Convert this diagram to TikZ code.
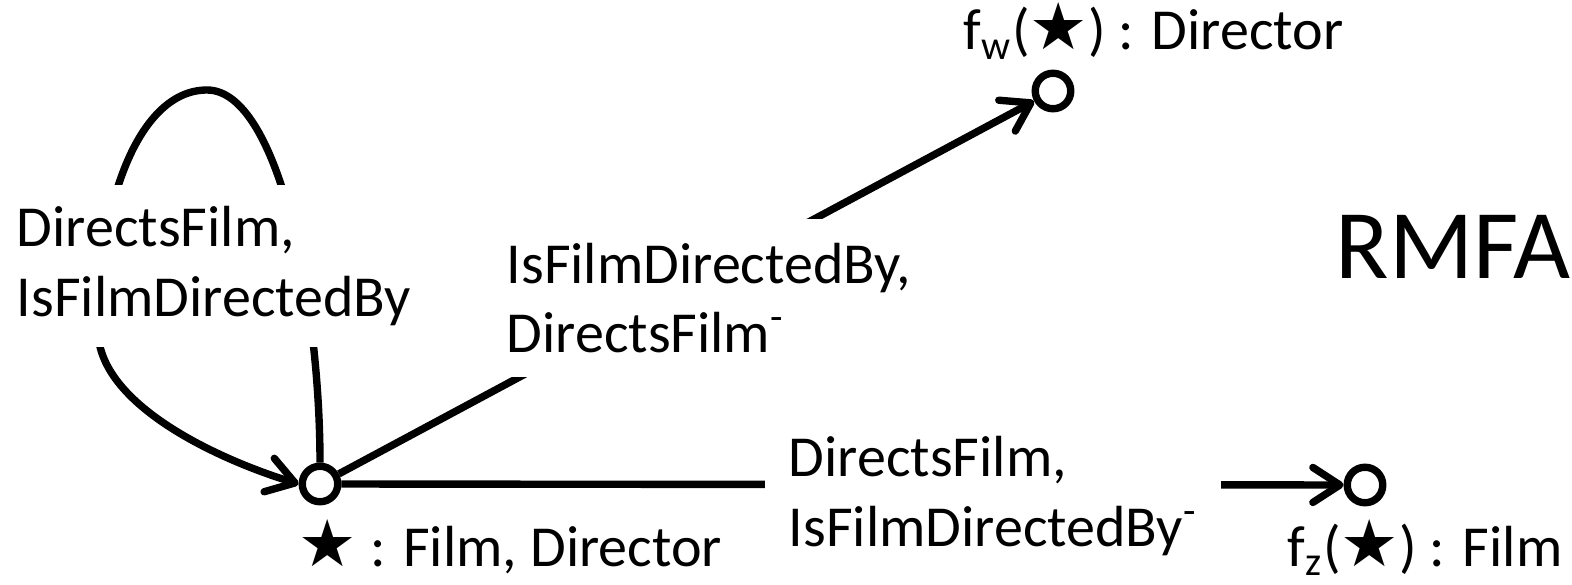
\documentclass[tikz,border=0pt]{standalone}
\usepackage{fontspec}
\setmainfont{Carlito}
\newfontfamily\symfont{DejaVu Sans}
\usetikzlibrary{arrows.meta}
\newcommand{\bstar}{{\symfont\fontsize{18.5}{18.5}\selectfont ★}}
\tikzset{
  state/.style={circle, draw, fill=white, line width=2.1pt, minimum size=3.55mm, inner sep=0pt},
  edgelabel/.style={fill=white, align=left, inner xsep=4pt, inner ysep=2pt, font=\fontsize{16.5}{19.8}\selectfont},
  typelabel/.style={inner sep=0pt, anchor=base west, font=\fontsize{16.5}{19.8}\selectfont},
  arrow/.style={-{Straight Barb[length=2.7mm, width=3.5mm, line cap=round, line join=round]}, line width=2.1pt},
  plainedge/.style={line width=2.1pt}
}
\begin{document}
\begin{tikzpicture}[x=0.01cm, y=-0.01cm]
\useasboundingbox (0,0) rectangle (1572,585);
% states
\node[state] (star) at (320,484) {};
\node[state] (fw) at (1053,91) {};
\node[state] (fz) at (1365,485) {};
% transitions
\draw[arrow] (star.north) .. controls (320,300) and (278,90) .. (207,90)
  .. controls (140,90) and (98,200) .. (98,330)
  .. controls (98,405) and (220,460) .. (star.west);
\draw[arrow] (star) -- (fw);
\draw[arrow] (star) -- (fz);
% edge labels
\node[edgelabel, minimum height=1.62cm] (looplab) at (214,266) {DirectsFilm,\\IsFilmDirectedBy};
\node[edgelabel, minimum height=1.57cm] (uplab) at (709,298) {IsFilmDirectedBy,\\DirectsFilm\textsuperscript{-}};
\node[edgelabel, minimum width=4.55cm] (lowlab) at (993,496) {DirectsFilm,\\IsFilmDirectedBy\textsuperscript{-}};
% state labels
\node[typelabel] (starlab) at (298,566) {\bstar{} : Film, Director};
\node[typelabel] (fwlab) at (963,50) {f\textsubscript{w}(\bstar) : Director};
\node[typelabel] (fzlab) at (1287,566) {f\textsubscript{z}(\bstar) : Film};
\node[typelabel, font=\fontsize{28}{33}\selectfont] (rmfa) at (1335,278) {RMFA};
\end{tikzpicture}
\end{document}
